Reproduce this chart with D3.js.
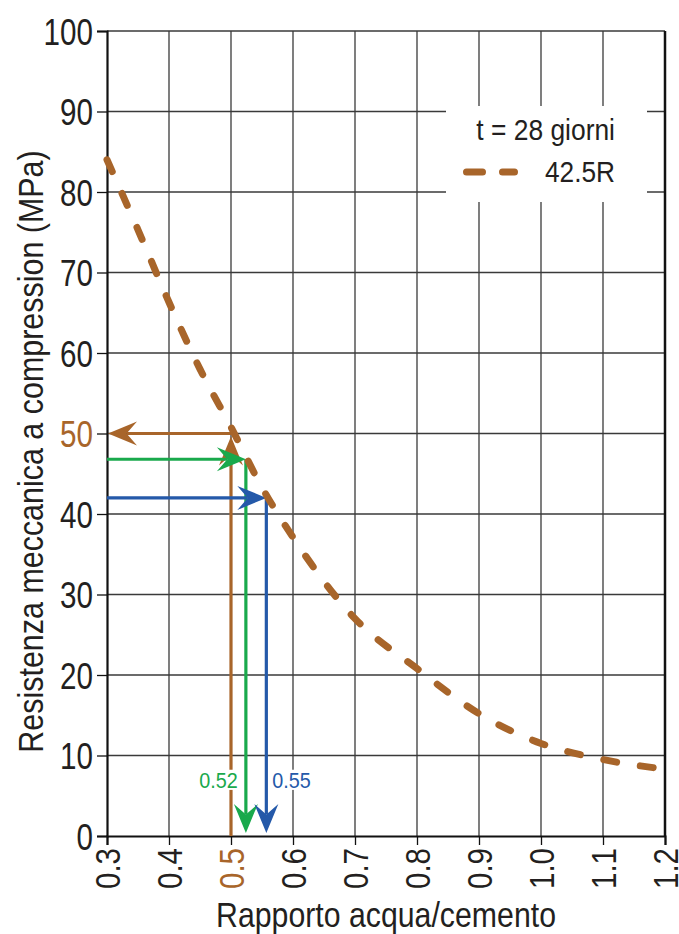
<!DOCTYPE html>
<html>
<head>
<meta charset="utf-8">
<script src="https://cdn.jsdelivr.net/npm/d3@7"></script>
<style>
  body { margin: 0; background: #fff; }
  text { font-family: "Liberation Sans", Arial, sans-serif; fill: #231f20; }
</style>
</head>
<body>
<script>
// curve values
const waterCement = [0.3, 0.35, 0.4, 0.45, 0.5, 0.55, 0.6, 0.7, 0.8, 0.9, 1.0, 1.1, 1.2];
const strength = [84, 75.3, 66.3, 58, 50.8, 43.3, 37.1, 27, 20.8, 15.2, 11.5, 9.5, 8.3];

// reading arrows
const readWC = [0.5, 0.524, 0.557];
const readMPa = [50, 46.8, 42];
const readLabels = ["", "0.52", "0.55"];

const yTicks = [0, 10, 20, 30, 40, 50, 60, 70, 80, 90, 100];
const xTicks = [0.3, 0.4, 0.5, 0.6, 0.7, 0.8, 0.9, 1.0, 1.1, 1.2];

const legendTitle = "t = 28 giorni";
const legendSeries = "42.5R";
const xTitle = "Rapporto acqua/cemento";
const yTitle = "Resistenza meccanica a compression (MPa)";

const brown = "#a8652a";
const readColors = [brown, "#19a94c", "#2459a9"];

let width = 679;
let height = 934;
let margin = {top: 31, right: 14, bottom: 98, left: 107};
let w = width - margin.left - margin.right;
let h = height - margin.top - margin.bottom;

let svg = d3.select("body").append("svg")
  .attr("width", width).attr("height", height);

let graph = svg.append("g").attr("transform", "translate(" + margin.left + "," + margin.top + ")");

let xScale = d3.scaleLinear().domain([0.3, 1.2]).range([0, w]);
let yScale = d3.scaleLinear().domain([0, 100]).range([h, 0]);

// condensed text: place at (x,y), rotate, squeeze along the text direction
function placeText(sel, x, y, rot, sx) {
  sel.attr("x", 0).attr("y", 0)
    .attr("transform", "translate(" + x + "," + y + ") rotate(" + rot + ") scale(" + sx + ",1)");
}

// grid
graph.append("g").selectAll("line").data(xTicks.slice(1, -1)).enter().append("line")
  .attr("x1", d => xScale(d)).attr("x2", d => xScale(d))
  .attr("y1", 0).attr("y2", h)
  .style("stroke", "#3a3a3a").style("stroke-width", 1.3);
graph.append("g").selectAll("line").data(yTicks.slice(1)).enter().append("line")
  .attr("x1", 0).attr("x2", w)
  .attr("y1", d => yScale(d)).attr("y2", d => yScale(d))
  .style("stroke", "#3a3a3a").style("stroke-width", 1.3);

// right border
graph.append("line")
  .attr("x1", w).attr("x2", w).attr("y1", 0).attr("y2", h)
  .style("stroke", "#111").style("stroke-width", 2.5);

// axes
let xAxis = d3.axisBottom(xScale).tickValues(xTicks).tickSize(9).tickFormat(d3.format(".1f"));
let gx = graph.append("g").attr("transform", "translate(0," + h + ")").call(xAxis);
gx.select(".domain").style("stroke", "#111").style("stroke-width", 2.2);
gx.selectAll(".tick line").style("stroke", "#111").style("stroke-width", 1.3);
gx.selectAll("text")
  .each(function() { placeText(d3.select(this), 0, 12, -90, 0.82); })
  .attr("dy", "0.36em")
  .style("text-anchor", "end")
  .style("font-size", "36px")
  .style("fill", d => d === 0.5 ? brown : "#231f20");

let yAxis = d3.axisLeft(yScale).tickValues(yTicks).tickSize(10);
let gy = graph.append("g").call(yAxis);
gy.select(".domain").style("stroke", "#111").style("stroke-width", 2.2);
gy.selectAll(".tick line").style("stroke", "#111").style("stroke-width", 1.3);
gy.selectAll("text")
  .each(function() { placeText(d3.select(this), -14, 0, 0, 0.8); })
  .attr("dy", "0.36em")
  .style("font-size", "37px")
  .style("fill", d => d === 50 ? brown : "#231f20");

// axis titles
svg.append("text")
  .call(placeText, 43, margin.top + h / 2 + 18, -90, 0.87)
  .style("text-anchor", "middle").style("font-size", "35px")
  .text(yTitle);
svg.append("text")
  .call(placeText, margin.left + w / 2, 927, 0, 0.865)
  .style("text-anchor", "middle").style("font-size", "35px")
  .text(xTitle);

// legend
let legend = graph.append("g");
legend.append("rect")
  .attr("x", 446 - margin.left).attr("y", 106 - margin.top)
  .attr("width", 201).attr("height", 96)
  .style("fill", "#fff");
legend.append("text")
  .call(placeText, 615 - margin.left, 140 - margin.top, 0, 0.88)
  .style("text-anchor", "end").style("font-size", "30px")
  .text(legendTitle);
legend.append("text")
  .call(placeText, 615 - margin.left, 182 - margin.top, 0, 0.875)
  .style("text-anchor", "end").style("font-size", "30px")
  .text(legendSeries);
legend.append("line")
  .attr("x1", 466.5 - margin.left).attr("x2", 514.5 - margin.left)
  .attr("y1", 172 - margin.top).attr("y2", 172 - margin.top)
  .style("stroke", brown).style("stroke-width", 7)
  .style("stroke-linecap", "round").style("stroke-dasharray", "16,20");

// arrow helper: line from (x1,y1) to tip (x2,y2) in pixels
function arrow(x1, y1, x2, y2, color) {
  let L = 29, W = 24, notch = 0.64;
  let ang = Math.atan2(y2 - y1, x2 - x1);
  let bx = x2 - Math.cos(ang) * L * notch;
  let by = y2 - Math.sin(ang) * L * notch;
  graph.append("line")
    .attr("x1", x1).attr("y1", y1).attr("x2", bx).attr("y2", by)
    .style("stroke", color).style("stroke-width", 3.2);
  let head = "M0,0 L" + (-L) + "," + (-W / 2) + " L" + (-L * notch) + ",0 L" + (-L) + "," + (W / 2) + " Z";
  graph.append("path")
    .attr("d", head)
    .attr("transform", "translate(" + x2 + "," + y2 + ") rotate(" + (ang * 180 / Math.PI) + ")")
    .style("fill", color);
}

readWC.forEach(function(v, i) {
  let px = xScale(v), py = yScale(readMPa[i]);
  let c = readColors[i];
  if (i === 0) {
    arrow(px, py, xScale(0.3) + 1, py, c);
    arrow(px, h, px, py + 3, c);
  } else {
    arrow(xScale(0.3), py, px, py, c);
    arrow(px, py, px, h - 3, c);
  }
});

// value labels with white backing
readLabels.forEach(function(lab, i) {
  if (!lab) return;
  let px = xScale(readWC[i]);
  let right = i === 1;
  let t = graph.append("text")
    .call(placeText, right ? px - 8 : px + 6, yScale(6), 0, 0.9)
    .style("text-anchor", right ? "end" : "start")
    .style("font-size", "22px")
    .style("fill", readColors[i])
    .text(lab);
  let bb = t.node().getBBox();
  let x0 = right ? px - 8 - bb.width * 0.9 : px + 6;
  graph.insert("rect", function() { return t.node(); })
    .attr("x", x0 - 2).attr("y", yScale(6) + bb.y + 2)
    .attr("width", bb.width * 0.9 + 4).attr("height", bb.height - 4)
    .style("fill", "#fff");
});

// strength curve
let line = d3.line()
  .x((d, i) => xScale(waterCement[i]))
  .y(d => yScale(d))
  .curve(d3.curveMonotoneX);
graph.append("path")
  .datum(strength)
  .attr("d", line)
  .style("fill", "none")
  .style("stroke", brown)
  .style("stroke-width", 7)
  .style("stroke-linecap", "round")
  .style("stroke-dasharray", "13,24");
</script>
</body>
</html>
